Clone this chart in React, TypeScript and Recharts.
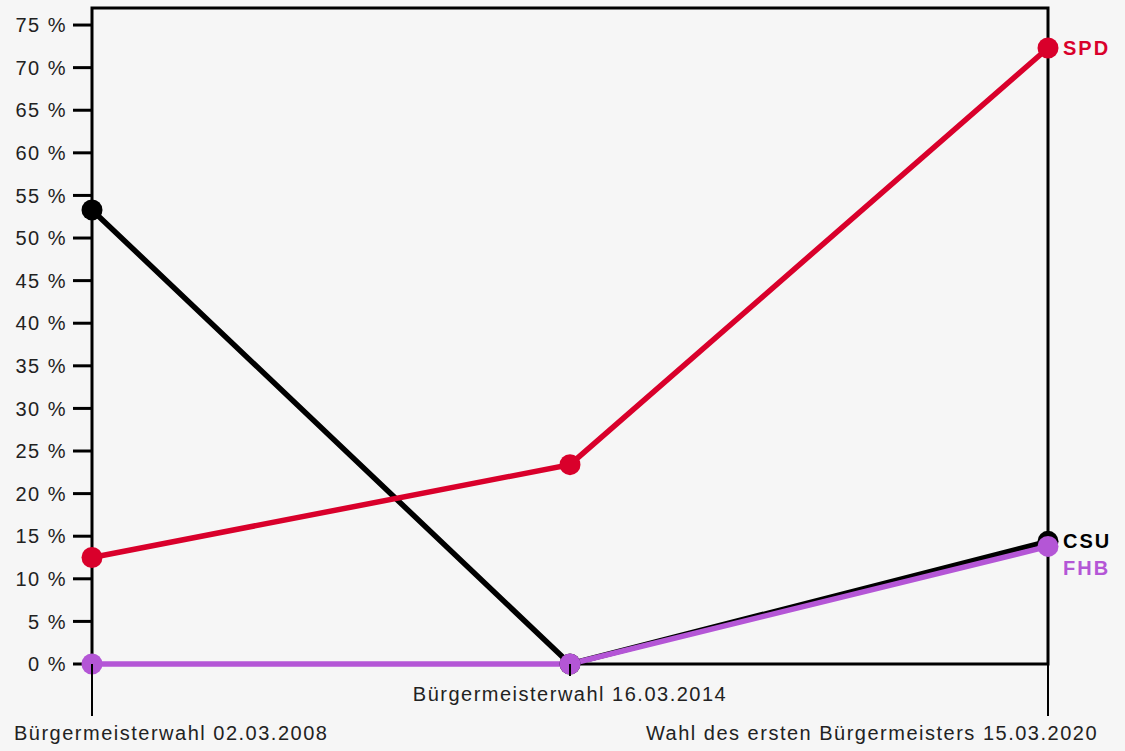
import React from 'react';
import { LineChart, Line, XAxis, YAxis, ReferenceArea, LabelList } from 'recharts';

const categories = [
  'Bürgermeisterwahl 02.03.2008',
  'Bürgermeisterwahl 16.03.2014',
  'Wahl des ersten Bürgermeisters 15.03.2020',
];
const csuValues = [53.3, 0, 14.4];
const spdValues = [12.5, 23.4, 72.3];
const fhbValues = [0, 0, 13.8];
const yTicks = [0, 5, 10, 15, 20, 25, 30, 35, 40, 45, 50, 55, 60, 65, 70, 75];

const data = categories.map((name, i) => ({
  name,
  CSU: csuValues[i],
  SPD: spdValues[i],
  FHB: fhbValues[i],
}));

const FONT = '"Liberation Sans", Arial, sans-serif';
const RED = '#d9002b';
const PURPLE = '#b456d6';

const XTick = (props: any) => {
  const { x, y, index, payload } = props;
  const last = index === categories.length - 1;
  const long = index !== 1;
  const len = long ? 52 : 12;
  let tx = x;
  let anchor: 'start' | 'middle' | 'end' = 'middle';
  if (index === 0) {
    tx = x - 78;
    anchor = 'start';
  } else if (last) {
    tx = x + 50;
    anchor = 'end';
  }
  return (
    <g>
      <line x1={x} y1={y} x2={x} y2={y + len} stroke="#000" strokeWidth={2} />
      <text
        x={tx}
        y={long ? y + 76 : y + 37}
        textAnchor={anchor}
        fontFamily={FONT}
        fontSize={20}
        letterSpacing={1.5}
        fill="#222"
      >
        {payload.value}
      </text>
    </g>
  );
};

const endLabel = (text: string, color: string, dy: number) => (props: any) => {
  const { x, y, index } = props;
  if (index !== categories.length - 1) return null;
  return (
    <text
      x={x + 15}
      y={y + dy}
      dominantBaseline="central"
      fontFamily={FONT}
      fontSize={20}
      fontWeight="bold"
      letterSpacing={2}
      fill={color}
    >
      {text}
    </text>
  );
};

export default function App() {
  return (
    <div style={{ position: 'absolute', left: 0, top: 0, width: 1125, height: 751, background: '#f6f6f6' }}>
      <LineChart width={1125} height={751} data={data} margin={{ top: 8, right: 77, bottom: 27, left: 12 }}>
        <ReferenceArea y1={0} y2={77} fill="none" stroke="#000" strokeWidth={3} />
        <XAxis
          dataKey="name"
          height={60}
          axisLine={false}
          tickLine={false}
          tickSize={0}
          tickMargin={0}
          interval={0}
          tick={<XTick />}
        />
        <YAxis
          width={80}
          domain={[0, 77]}
          ticks={yTicks}
          axisLine={false}
          tickLine={{ stroke: '#000', strokeWidth: 3 }}
          tickSize={19}
          tickMargin={6}
          tickFormatter={(v: number) => `${v} %`}
          tick={{ fontFamily: FONT, fontSize: 20, fill: '#222', letterSpacing: 1.5 }}
        />
        <Line
          dataKey="CSU"
          stroke="#000"
          strokeWidth={5.5}
          dot={{ r: 10.5, fill: '#000', stroke: '#000', strokeWidth: 0 }}
          activeDot={false}
          isAnimationActive={false}
        >
          <LabelList dataKey="CSU" content={endLabel('CSU', '#000', 0)} />
        </Line>
        <Line
          dataKey="SPD"
          stroke={RED}
          strokeWidth={5.5}
          dot={{ r: 10.5, fill: RED, stroke: RED, strokeWidth: 0 }}
          activeDot={false}
          isAnimationActive={false}
        >
          <LabelList dataKey="SPD" content={endLabel('SPD', RED, 0)} />
        </Line>
        <Line
          dataKey="FHB"
          stroke={PURPLE}
          strokeWidth={5.5}
          dot={{ r: 10.5, fill: PURPLE, stroke: PURPLE, strokeWidth: 0 }}
          activeDot={false}
          isAnimationActive={false}
        >
          <LabelList dataKey="FHB" content={endLabel('FHB', PURPLE, 22)} />
        </Line>
      </LineChart>
    </div>
  );
}
